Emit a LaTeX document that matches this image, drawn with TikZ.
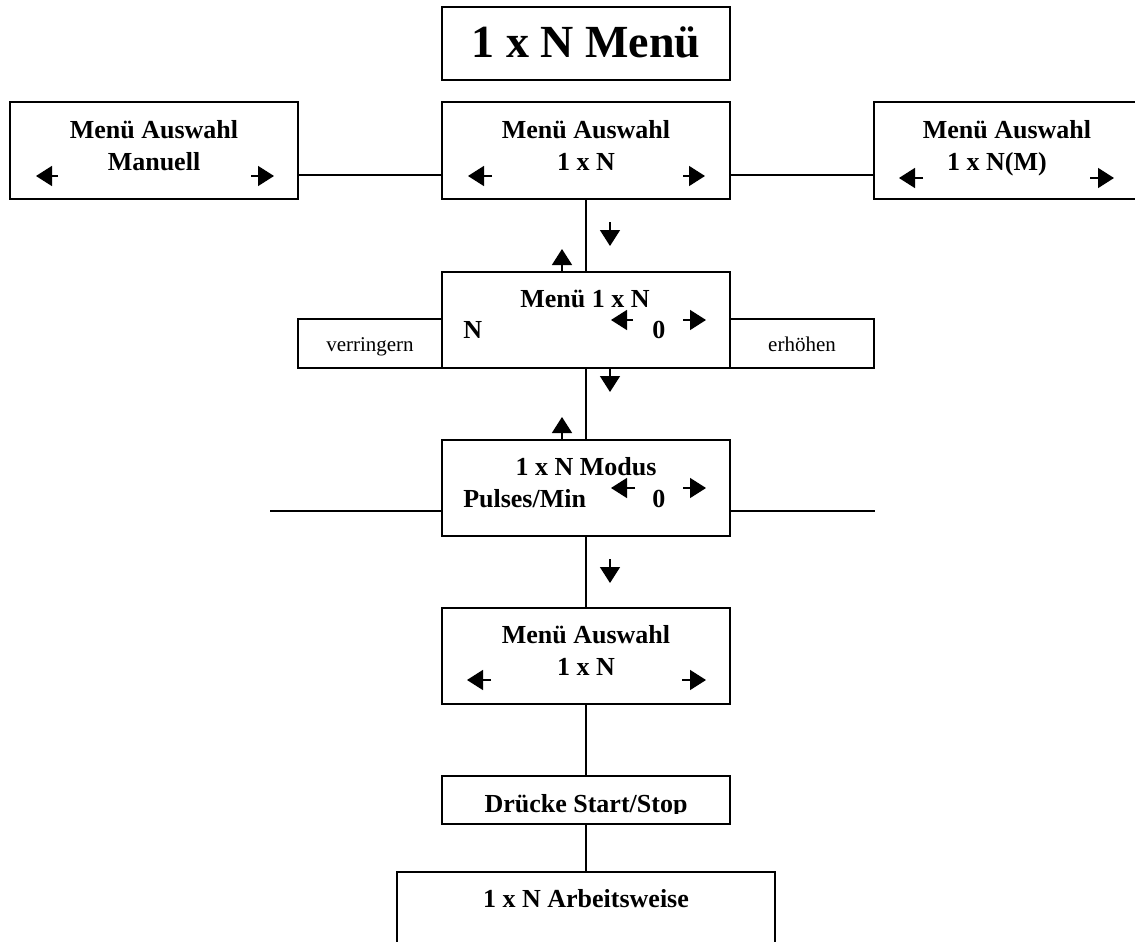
\documentclass[tikz,border=0pt]{standalone}
\usepackage{fontspec}
\setmainfont{Liberation Serif}
\usetikzlibrary{arrows.meta}
\begin{document}
\begin{tikzpicture}[x=0.75pt,y=-0.75pt,
  box/.style={draw,line width=1.1pt,rectangle,inner sep=0pt,outer sep=0pt},
  lbl/.style={font=\fontsize{19.5}{22}\selectfont\bfseries,inner sep=0pt,anchor=base},
  small/.style={font=\fontsize{15.75}{18}\selectfont,inner sep=0pt,anchor=base},
  link/.style={line width=1.1pt},
  tri/.style={line width=1.1pt,-{Triangle[length=12pt,width=15pt]}}]
\clip (0,0) rectangle (1135,942);
\fill[white] (0,0) rectangle (1135,942);

% boxes
\node[box,minimum width=216pt,minimum height=54.75pt] (title) at (586,43.5) {};
\node[box,minimum width=216pt,minimum height=72.75pt] (selL) at (154,150.5) {};
\node[box,minimum width=216pt,minimum height=72.75pt] (selC) at (586,150.5) {};
\node[box,minimum width=216pt,minimum height=72.75pt] (selR) at (1018,150.5) {};
\node[box,minimum width=216pt,minimum height=72pt] (menu) at (586,320) {};
\node[box,minimum width=108pt,minimum height=36.75pt] (dec) at (370,343.5) {};
\node[box,minimum width=108pt,minimum height=36.75pt] (inc) at (802,343.5) {};
\node[box,minimum width=216pt,minimum height=72pt] (mode) at (586,488) {};
\node[box,minimum width=216pt,minimum height=72pt] (sel2) at (586,656) {};
\node[box,minimum width=216pt,minimum height=36pt] (press) at (586,800) {};
\node[box,minimum width=283.5pt,minimum height=66pt] (work) at (586,916) {};

% texts
\node[lbl,font=\fontsize{34.5}{38}\selectfont\bfseries] (tT) at (586,58) {1 x N Menü};
\node[lbl] (tL1) at (154,138) {Menü Auswahl};
\node[lbl] (tL2) at (154,170) {Manuell};
\node[lbl] (tC1) at (586,138) {Menü Auswahl};
\node[lbl] (tC2) at (586,170) {1 x N};
\node[lbl] (tR1) at (1007,138) {Menü Auswahl};
\node[lbl] (tR2) at (997,170) {1 x N(M)};
\node[lbl] (tM1) at (585,307) {Menü 1 x N};
\node[lbl,anchor=base west] (tM2) at (463,338) {N};
\node[lbl,anchor=base west] (tM3) at (652,338) {0};
\node[small] (tD) at (370,351) {verringern};
\node[small] (tI) at (802,351) {erhöhen};
\node[lbl] (tO1) at (586,475) {1 x N Modus};
\node[lbl,anchor=base west] (tO2) at (463,507) {Pulses/Min};
\node[lbl,anchor=base west] (tO3) at (652,507) {0};
\node[lbl] (tS1) at (586,643) {Menü Auswahl};
\node[lbl] (tS2) at (586,675) {1 x N};
\begin{scope}
  \clip (442,776) rectangle (730,813);
  \node[lbl] (tP) at (586,812) {Drücke Start/Stop};
\end{scope}
\node[lbl] (tW) at (586,907) {1 x N Arbeitsweise};

% connectors
\coordinate (row) at (0,175);
\draw[link] (selL.east |- row) -- (selC.west |- row);
\draw[link] (selC.east |- row) -- (selR.west |- row);
\draw[link] (selC.south) -- (menu.north);
\draw[link] (menu.south) -- (mode.north);
\draw[link] (mode.south) -- (sel2.north);
\draw[link] (sel2.south) -- (press.north);
\draw[link] (press.south) -- (work.north);
\coordinate (modeL) at (270,511);
\coordinate (modeR) at (875,511);
\draw[link] (modeL) -- (modeL -| mode.west);
\draw[link] (modeR -| mode.east) -- (modeR);

% direction arrows
\draw[tri] (58,176) -- (36,176);
\draw[tri] (251,176) -- (274,176);
\draw[tri] (492,176) -- (468,176);
\draw[tri] (683,176) -- (705,176);
\draw[tri] (923,178) -- (899,178);
\draw[tri] (1090,178) -- (1114,178);
\draw[tri] (633,320) -- (611,320);
\draw[tri] (683,320) -- (706,320);
\draw[tri] (635,488) -- (611,488);
\draw[tri] (683,488) -- (706,488);
\draw[tri] (491,680) -- (467,680);
\draw[tri] (682,680) -- (706,680);
\draw[tri] (610,222) -- (610,246);
\draw[tri] (562,272) -- (562,249);
\draw[tri] (610,368) -- (610,392);
\draw[tri] (562,440) -- (562,417);
\draw[tri] (610,559) -- (610,583);
\end{tikzpicture}
\end{document}
